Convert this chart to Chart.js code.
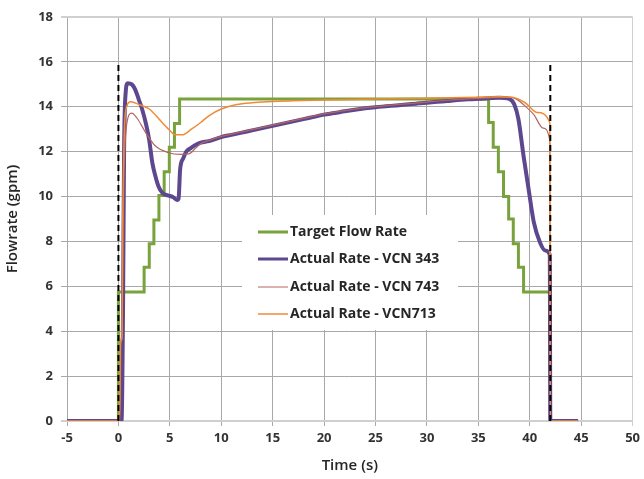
<!DOCTYPE html>
<html>
<head>
<meta charset="utf-8">
<style>
  html, body { margin: 0; padding: 0; background: #ffffff; }
  #wrap { width: 644px; height: 479px; }
</style>
<script src="https://cdn.jsdelivr.net/npm/chart.js@4.4.1/dist/chart.umd.min.js"></script>
</head>
<body>
<div id="wrap"><canvas id="flowChart" width="644" height="479"></canvas></div>
<script>
// Series labels
const seriesNames = ['Target Flow Rate', 'Actual Rate - VCN 343', 'Actual Rate - VCN 743', 'Actual Rate - VCN713'];

// Target flow rate (stepped)
const targetTime = [-5, 0, 2.5, 3.0, 3.45, 3.94, 4.45, 4.95, 5.45, 5.95, 36.0, 36.45, 36.95, 37.45, 37.95, 38.4, 38.9, 39.4, 42.0, 44.7];
const targetRate = [0, 5.75, 6.85, 7.9, 8.95, 10.05, 11.1, 12.2, 13.25, 14.35, 13.3, 12.2, 11.1, 10.0, 9.0, 7.9, 6.85, 5.75, 0, 0];

// VCN 343
const v343Time = [-5, 0.3, 0.45, 0.55, 0.7, 0.9, 1.3, 1.6, 2.0, 2.3, 2.7, 3.0, 3.3, 3.6, 3.9, 4.3, 4.8, 5.3, 5.7, 5.85, 6.0, 6.3, 6.6, 7.0, 7.5, 8.0, 8.8, 10, 11, 12, 13, 14, 15, 16, 17, 18, 19, 20, 21, 22, 23, 24, 25, 26, 27, 28, 29, 30, 31, 32, 33, 34, 35, 36, 37, 38.0, 38.5, 38.9, 39.4, 39.9, 40.4, 41.0, 41.5, 41.95, 42.0, 44.7];
const v343Rate = [0, 0, 5, 12, 14.6, 15.05, 15.0, 14.8, 14.3, 13.9, 13.2, 12.5, 11.5, 10.9, 10.45, 10.15, 10.05, 9.98, 9.85, 9.9, 11.2, 11.7, 12.0, 12.15, 12.3, 12.4, 12.47, 12.65, 12.75, 12.85, 12.95, 13.05, 13.15, 13.25, 13.35, 13.45, 13.55, 13.65, 13.72, 13.8, 13.87, 13.93, 13.98, 14.02, 14.06, 14.1, 14.14, 14.18, 14.22, 14.26, 14.3, 14.33, 14.36, 14.38, 14.4, 14.35, 14.1, 13.45, 11.8, 10.3, 8.85, 7.95, 7.6, 7.4, 0, 0];

// VCN 743
const v743Time = [-5, 0.15, 0.25, 0.35, 0.5, 0.8, 1.3, 1.8, 2.65, 3.6, 4.9, 6.0, 6.85, 7.5, 8.0, 8.8, 10, 12, 14, 16, 18, 20, 22, 24, 26, 28, 30, 32, 34, 36, 37, 38.0, 38.75, 39.5, 40.4, 41.3, 41.95, 42.0, 44.7];
const v743Rate = [0, 0, 3.6, 3.8, 10, 13.2, 13.72, 13.5, 12.85, 12.25, 11.95, 11.88, 11.9, 12.15, 12.35, 12.5, 12.68, 12.88, 13.08, 13.28, 13.48, 13.68, 13.83, 13.96, 14.05, 14.13, 14.21, 14.29, 14.35, 14.4, 14.43, 14.43, 14.33, 14.05, 13.65, 13.05, 12.5, 0, 0];

// VCN713
const v713Time = [-5, 0.1, 0.2, 0.35, 0.4, 0.55, 0.8, 1.2, 2.0, 3.0, 4.25, 5.1, 5.5, 6.2, 7.1, 8.0, 8.8, 10, 11.5, 13, 15, 17, 20, 25, 30, 35, 37, 38.3, 39.55, 40.75, 41.95, 42.0, 44.7];
const v713Rate = [0, 0, 3.5, 3.7, 8, 12.5, 14.0, 14.22, 14.1, 13.9, 13.3, 12.9, 12.75, 12.75, 13.0, 13.3, 13.6, 13.9, 14.1, 14.18, 14.23, 14.27, 14.3, 14.35, 14.38, 14.42, 14.45, 14.42, 14.18, 13.74, 13.3, 0, 0];

// Dashed markers (start / stop)
const markerTimes = [0, 42];
const markerTop = 16;

// Axis ticks
const xMin = -5, xMax = 50, xStep = 5;
const yMin = 0, yMax = 18, yStep = 2;

const colors = ['#78a23c', '#5d478f', '#b5655f', '#f08a36'];
const widths = [3, 4, 1.2, 1.5];

function toPoints(t, v) {
    return t.map((x, i) => ({ x: x, y: v[i] }));
}

const datasets = [
    { label: seriesNames[0], data: toPoints(targetTime, targetRate), stepped: 'before', order: 5 },
    { label: seriesNames[1], data: toPoints(v343Time, v343Rate), order: 4, cubicInterpolationMode: 'monotone' },
    { label: seriesNames[2], data: toPoints(v743Time, v743Rate), order: 3, cubicInterpolationMode: 'monotone' },
    { label: seriesNames[3], data: toPoints(v713Time, v713Rate), order: 2, cubicInterpolationMode: 'monotone' }
].map((d, i) => Object.assign({
    borderColor: colors[i],
    backgroundColor: colors[i],
    borderWidth: widths[i],
    pointRadius: 0,
    fill: false
}, d));

markerTimes.forEach(t => {
    datasets.push({
        label: 'marker',
        data: [{ x: t, y: 0 }, { x: t, y: markerTop }],
        borderColor: '#000000',
        borderWidth: 2,
        borderDash: [6, 4],
        pointRadius: 0,
        fill: false,
        order: 1
    });
});

// Legend drawn inside the plot on a white box
const insideLegend = {
    id: 'insideLegend',
    afterDraw(chart) {
        const ctx = chart.ctx;
        ctx.save();
        ctx.fillStyle = '#ffffff';
        ctx.fillRect(242, 215, 216, 115);
        ctx.font = 'bold 14px "Open Sans", "Liberation Sans", sans-serif';
        ctx.textBaseline = 'middle';
        ctx.textAlign = 'left';
        const rows = [232, 259, 287, 314];
        seriesNames.forEach((name, i) => {
            ctx.strokeStyle = colors[i];
            ctx.lineWidth = i < 2 ? 3 : (i === 2 ? 1 : 1.5);
            ctx.beginPath();
            ctx.moveTo(258, rows[i]);
            ctx.lineTo(288, rows[i]);
            ctx.stroke();
            ctx.fillStyle = '#262626';
            ctx.fillText(name, 290, rows[i]);
        });
        ctx.restore();
    }
};

const ctx = document.getElementById('flowChart').getContext('2d');
const chart = new Chart(ctx, {
    type: 'line',
    data: { datasets: datasets },
    options: {
        responsive: false,
        animation: false,
        layout: { padding: { top: 17, right: 8, left: 0, bottom: 0 } },
        plugins: {
            legend: { display: false },
            tooltip: { enabled: false }
        },
        scales: {
            x: {
                type: 'linear',
                min: xMin,
                max: xMax,
                ticks: {
                    stepSize: xStep,
                    color: '#333333',
                    font: { family: '"Open Sans", "Liberation Sans", sans-serif', size: 13, weight: 'bold' },
                    padding: 4
                },
                border: { display: false },
                grid: {
                    color: c => (c.tick && c.tick.value === xMax) ? '#d0d0d0' : '#a8a8a8',
                    lineWidth: 1,
                    tickLength: 5
                },
                title: {
                    display: true,
                    text: 'Time (s)',
                    color: '#262626',
                    font: { family: '"Open Sans", "Liberation Sans", sans-serif', size: 15, weight: '600' },
                    padding: { top: 2 }
                },
                afterFit(scale) { scale.height = 58; }
            },
            y: {
                min: yMin,
                max: yMax,
                ticks: {
                    stepSize: yStep,
                    color: '#333333',
                    font: { family: '"Open Sans", "Liberation Sans", sans-serif', size: 13, weight: 'bold' },
                    padding: 8
                },
                border: { display: false },
                grid: {
                    color: c => (c.tick && (c.tick.value === yMin || c.tick.value === yMax)) ? '#d0d0d0' : '#a8a8a8',
                    lineWidth: c => (c.tick && (c.tick.value === yMin || c.tick.value === yMax)) ? 2 : 1,
                    tickLength: 6
                },
                title: {
                    display: true,
                    text: 'Flowrate (gpm)',
                    color: '#262626',
                    font: { family: '"Open Sans", "Liberation Sans", sans-serif', size: 15, weight: '600' },
                    padding: { bottom: 4 }
                },
                afterFit(scale) { scale.width = 67; }
            }
        }
    },
    plugins: [insideLegend]
});
</script>
</body>
</html>
